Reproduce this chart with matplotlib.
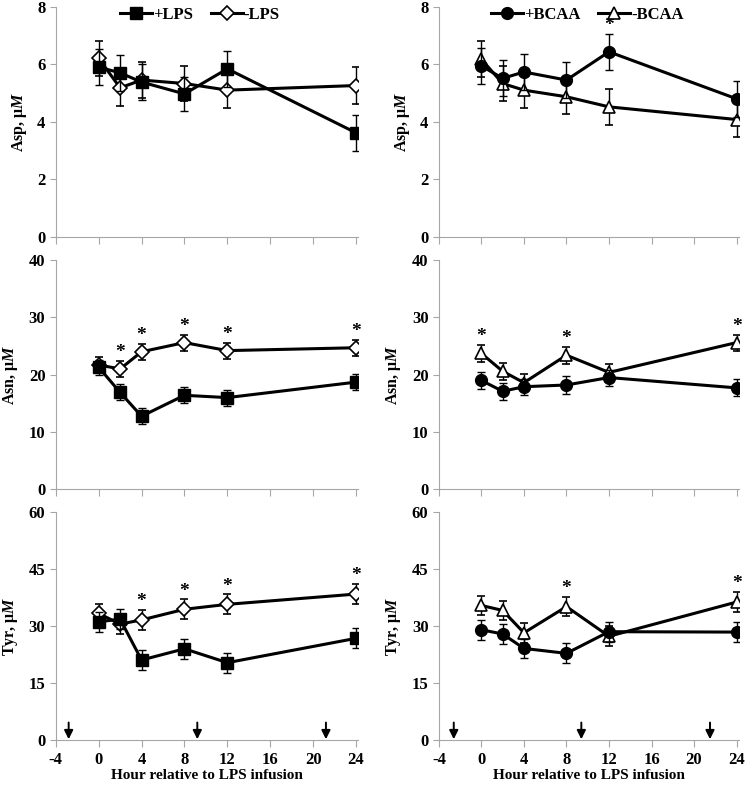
import matplotlib
matplotlib.use("Agg")
import matplotlib.pyplot as plt
from matplotlib.lines import Line2D

plt.rcParams['font.family'] = ['Liberation Serif', 'DejaVu Serif']
plt.rcParams['font.weight'] = 'bold'
plt.rcParams['mathtext.fontset'] = 'custom'
plt.rcParams['mathtext.it'] = 'Liberation Serif:italic:bold'
plt.rcParams['mathtext.rm'] = 'Liberation Serif:bold'
plt.rcParams['axes.unicode_minus'] = False

hours = [0, 2, 4, 8, 12, 24]
arrows_left = [-2.8, 9.2, 21.2]
arrows_right = [-2.6, 9.4, 21.5]

# Asp
asp_lps = [5.9, 5.7, 5.38, 4.97, 5.84, 3.62]
asp_lps_err = [0.63, 0.62, 0.62, 0.6, 0.62, 0.62]
asp_nolps = [6.2, 5.18, 5.45, 5.33, 5.1, 5.26]
asp_nolps_err = [0.62, 0.62, 0.62, 0.62, 0.62, 0.63]
asp_bcaa = [5.94, 5.51, 5.73, 5.45, 6.43, 4.8]
asp_bcaa_err = [0.62, 0.62, 0.62, 0.62, 0.62, 0.62]
asp_nobcaa = [6.17, 5.33, 5.1, 4.87, 4.52, 4.08]
asp_nobcaa_err = [0.62, 0.6, 0.62, 0.6, 0.62, 0.6]

# Asn
asn_lps = [21.3, 16.9, 12.75, 16.4, 16.0, 18.7]
asn_lps_err = [1.3, 1.4, 1.4, 1.4, 1.4, 1.4]
asn_nolps = [21.7, 21.0, 24.0, 25.6, 24.2, 24.7]
asn_nolps_err = [1.4, 1.4, 1.4, 1.4, 1.4, 1.4]
asn_bcaa = [19.0, 17.1, 17.9, 18.2, 19.5, 17.7]
asn_bcaa_err = [1.5, 1.5, 1.4, 1.5, 1.4, 1.5]
asn_nobcaa = [23.7, 20.6, 18.6, 23.4, 20.4, 25.6]
asn_nobcaa_err = [1.5, 1.5, 1.5, 1.5, 1.5, 1.4]

# Tyr
tyr_lps = [31.1, 31.8, 21.05, 24.0, 20.35, 26.75]
tyr_lps_err = [2.6, 2.6, 2.6, 2.6, 2.6, 2.6]
tyr_nolps = [33.3, 30.5, 31.6, 34.4, 35.7, 38.4]
tyr_nolps_err = [2.6, 2.6, 2.6, 2.6, 2.6, 2.65]
tyr_bcaa = [29.0, 27.9, 24.1, 22.8, 28.5, 28.4]
tyr_bcaa_err = [2.6, 2.6, 2.6, 2.6, 2.6, 2.6]
tyr_nobcaa = [35.4, 34.1, 28.2, 35.1, 27.3, 36.3]
tyr_nobcaa_err = [2.6, 2.6, 2.6, 2.6, 2.6, 2.6]

# significance stars (index into hours), drawn on the "minus" series
stars = {
    (0, 0): [], (0, 1): [4],
    (1, 0): [1, 2, 3, 4, 5], (1, 1): [0, 3, 5],
    (2, 0): [2, 3, 4, 5], (2, 1): [3, 5],
}
star_on_plus = {(0, 1): True}

ylabels = ['Asp, \u03bc$M$', 'Asn, \u03bc$M$', 'Tyr, \u03bc$M$']
yticks = [[0, 2, 4, 6, 8], [0, 10, 20, 30, 40], [0, 15, 30, 45, 60]]

left_data = [
    (asp_lps, asp_lps_err, asp_nolps, asp_nolps_err),
    (asn_lps, asn_lps_err, asn_nolps, asn_nolps_err),
    (tyr_lps, tyr_lps_err, tyr_nolps, tyr_nolps_err),
]
right_data = [
    (asp_bcaa, asp_bcaa_err, asp_nobcaa, asp_nobcaa_err),
    (asn_bcaa, asn_bcaa_err, asn_nobcaa, asn_nobcaa_err),
    (tyr_bcaa, tyr_bcaa_err, tyr_nobcaa, tyr_nobcaa_err),
]

fig = plt.figure(figsize=(7.52, 7.85), dpi=100)

col_left = [0.0742, 0.5836]
col_width = [0.402, 0.3987]
row_bottom = [0.698, 0.3767, 0.0573]
row_height = [0.2936, 0.292, 0.2905]
legend_x = [0.477, 0.495]

spine_col = '#a6a6a6'
fs = 11.5
tfs = 12

for c in range(2):
    data = left_data if c == 0 else right_data
    if c == 0:
        m_plus, m_minus, lab_plus, lab_minus, ms_minus = 's', 'D', '+LPS', '-LPS', 7
    else:
        m_plus, m_minus, lab_plus, lab_minus, ms_minus = 'o', '^', '+BCAA', '-BCAA', 9
    for r in range(3):
        ax = fig.add_axes([col_left[c], row_bottom[r], col_width[c], row_height[r]])
        plus, plus_err, minus, minus_err = data[r]
        ax.errorbar(hours, minus, yerr=minus_err, color='black', lw=2.2,
                    marker=m_minus, ms=ms_minus, mfc='white', mec='black', mew=1.2,
                    ecolor='black', elinewidth=1, capsize=3, capthick=1,
                    zorder=3)
        ax.errorbar(hours, plus, yerr=plus_err, color='black', lw=2.2,
                    marker=m_plus, ms=8.5, mfc='black', mec='black',
                    ecolor='black', elinewidth=1, capsize=3, capthick=1,
                    zorder=4)
        ymax = yticks[r][-1]
        # stars
        for i in stars[(r, c)]:
            if star_on_plus.get((r, c)):
                top = plus[i] + plus_err[i]
            else:
                top = minus[i] + minus_err[i]
            ax.annotate('*', xy=(hours[i], top), xytext=(0, 6),
                        textcoords='offset points', ha='center', va='center',
                        fontsize=14, fontweight='bold')
        ax.set_xlim(-4, 24.2)
        ax.set_ylim(0, ymax)
        ax.set_xticks([-4, 0, 4, 8, 12, 16, 20, 24])
        ax.set_yticks(yticks[r])
        ax.spines['top'].set_visible(False)
        ax.spines['right'].set_visible(False)
        ax.spines['left'].set_color(spine_col)
        ax.spines['bottom'].set_color(spine_col)
        ax.tick_params(axis='both', colors=spine_col, labelcolor='black',
                       labelsize=tfs, direction='out')
        ax.tick_params(axis='x', length=5)
        ax.tick_params(axis='y', length=4)
        for lab in ax.get_xticklabels() + ax.get_yticklabels():
            lab.set_fontweight('bold')
        ax.set_ylabel(ylabels[r], fontsize=fs, fontweight='bold', labelpad=6)
        if r < 2:
            ax.set_xticklabels([])
        else:
            ax.set_xlabel('Hour relative to LPS infusion', fontsize=11,
                          fontweight='bold', labelpad=1)
            arr = arrows_left if c == 0 else arrows_right
            for a in arr:
                ax.annotate('', xy=(a, 0.2), xytext=(a, 4.6),
                            arrowprops=dict(arrowstyle='-|>', color='black',
                                            lw=1.4, mutation_scale=13,
                                            shrinkA=0, shrinkB=0))
        if r == 0:
            handles = [
                Line2D([], [], color='black', lw=2.2, marker=m_plus, ms=8.5,
                       mfc='black', mec='black'),
                Line2D([], [], color='black', lw=2.2, marker=m_minus,
                       ms=ms_minus, mfc='white', mec='black', mew=1.2),
            ]
            ax.legend(handles, [lab_plus, lab_minus], loc='upper center', ncol=2,
                      bbox_to_anchor=(legend_x[c], 1.065), frameon=False,
                      handlelength=1.9, handletextpad=0.05,
                      columnspacing=1.1, prop={'weight': 'bold', 'size': 12})

fig.savefig('out.png', dpi=100)
